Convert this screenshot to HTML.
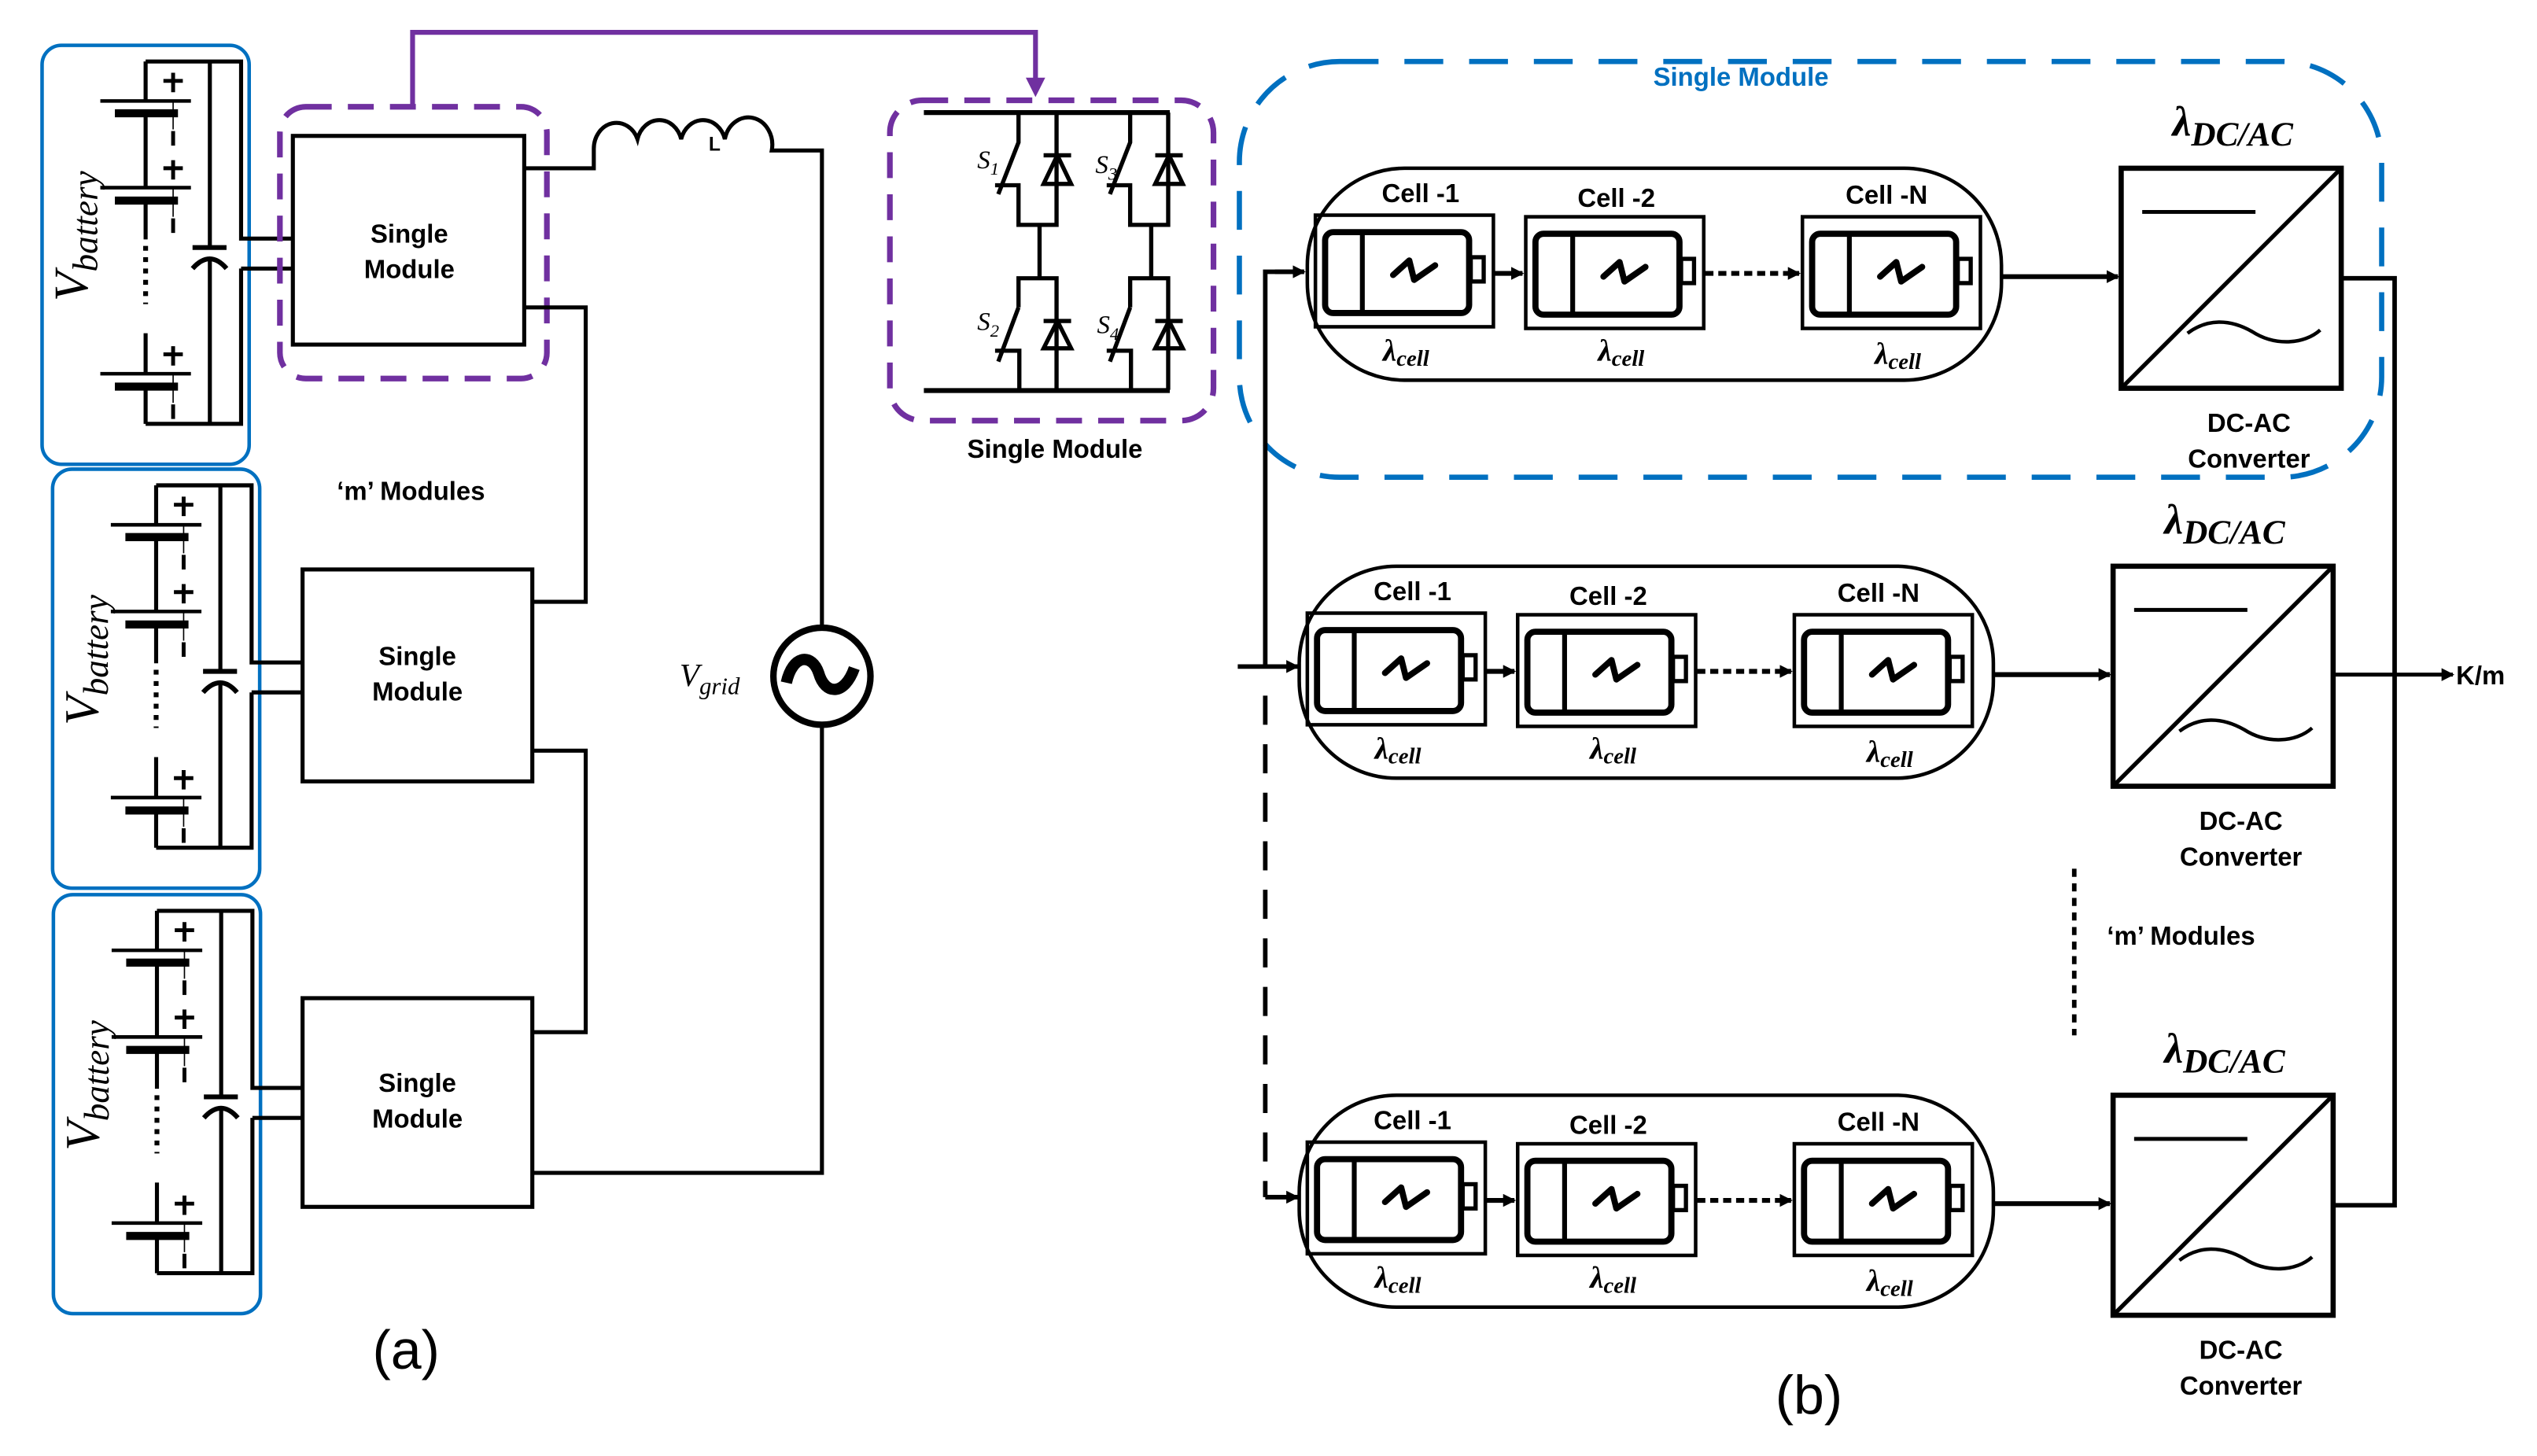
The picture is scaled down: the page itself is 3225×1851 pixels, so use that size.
<!DOCTYPE html>
<html><head><meta charset="utf-8"><style>
html,body{margin:0;padding:0;background:#fff;}
svg{display:block;}
.t{font-family:"Liberation Sans Narrow","Liberation Sans",sans-serif;font-weight:bold;fill:#000;}
.m{font-family:"Liberation Serif",serif;font-style:italic;fill:#000;}
</style></head><body>
<svg width="3225" height="1851" viewBox="0 0 1568 900" preserveAspectRatio="none" xmlns="http://www.w3.org/2000/svg">
<defs>
<marker id="ah" markerWidth="8" markerHeight="8" refX="7" refY="4" orient="auto" markerUnits="userSpaceOnUse"><path d="M0,0 L8,4 L0,8 z" fill="#000"/></marker>
<g id="pack" fill="none" stroke="#000">
  <rect x="26" y="28" width="128" height="259" rx="12" stroke="#0070c0" stroke-width="2.2"/>
  <path d="M90,38 H149 V147.5 H181 M149,166 H181 M149,166 V262 H90 M129.7,38 V153 M129.7,160 V262" stroke-width="2.5"/>
  <path d="M90,38 V62 M90,70 V116 M90,124 V148 M90,206 V231 M90,239 V262" stroke-width="2.5"/>
  <path d="M90,152 V188" stroke-width="3" stroke-dasharray="3,4"/>
  <path d="M119,153 H140" stroke-width="3"/>
  <path d="M119,166 Q129.7,154 140,166" stroke-width="3"/>
  <g stroke-width="2.2">
   <path d="M62,62.4 H118 M62,116 H118 M62,231 H118"/>
   <path d="M107,45 V57 M101,50 H113 M107,99 V111 M101,104 H113 M107,214 V226 M101,219 H113" stroke-width="2.4"/>
   <path d="M107,81 V90 M107,135 V144 M107,250 V259" stroke-width="2.4"/>
   <path d="M107,62 V80 M107,116 V134 M107,231 V249" stroke-width="0.8"/>
  </g>
  <path d="M71,70 H110 M71,124 H110 M71,239 H110" stroke-width="5"/>
  <text class="m" x="0" y="0" transform="translate(54,146) rotate(-90)" text-anchor="middle" font-size="30" stroke="none">V<tspan font-size="22" dy="6">battery</tspan></text>
</g>
<g id="cell" fill="none" stroke="#000">
  <rect x="0" y="0" width="110" height="69" stroke-width="2.2"/>
  <rect x="6" y="10.5" width="89" height="50" rx="5" stroke-width="3.8"/>
  <path d="M29,10.5 V60.5" stroke-width="3"/>
  <rect x="96" y="26" width="8" height="15" stroke-width="2.6"/>
  <path d="M48,37 L58,28 L61,40 L74,31" stroke-width="3.8" stroke-linecap="round" stroke-linejoin="round"/>
</g>
<g id="row">
  <rect x="808" y="104" width="429" height="131" rx="60" fill="none" stroke="#000" stroke-width="2.2"/>
  <use href="#cell" x="813" y="133"/>
  <use href="#cell" x="943" y="134"/>
  <use href="#cell" x="1114" y="134"/>
  <path d="M923,169 H941" stroke="#000" stroke-width="3" marker-end="url(#ah)"/>
  <path d="M1054,169 H1112" stroke="#000" stroke-width="3" stroke-dasharray="5,3" marker-end="url(#ah)"/>
  <path d="M1237,171 H1309" stroke="#000" stroke-width="3" marker-end="url(#ah)"/>
  <text class="t" x="878" y="125" font-size="16" text-anchor="middle">Cell -1</text>
  <text class="t" x="999" y="128" font-size="16" text-anchor="middle">Cell -2</text>
  <text class="t" x="1166" y="126" font-size="16" text-anchor="middle">Cell -N</text>
  <text class="m" x="869" y="223" font-size="19" text-anchor="middle" font-weight="bold">λ<tspan font-size="14" dy="3">cell</tspan></text>
  <text class="m" x="1002" y="223" font-size="19" text-anchor="middle" font-weight="bold">λ<tspan font-size="14" dy="3">cell</tspan></text>
  <text class="m" x="1173" y="225" font-size="19" text-anchor="middle" font-weight="bold">λ<tspan font-size="14" dy="3">cell</tspan></text>
  <rect x="1311" y="104" width="136" height="136" fill="none" stroke="#000" stroke-width="3.2"/>
  <path d="M1311,240 L1447,104" stroke="#000" stroke-width="2.6"/>
  <path d="M1324,131 H1394" stroke="#000" stroke-width="2.4"/>
  <path d="M1352,206 C1364,197 1378,197 1392,205 C1406,214 1424,213 1434,204" fill="none" stroke="#000" stroke-width="2.2"/>
  <text class="m" x="1380" y="84" font-size="26" text-anchor="middle" font-weight="bold">λ<tspan font-size="21" dy="6">DC/AC</tspan></text>
  <text class="t" x="1390" y="267" font-size="16" text-anchor="middle">DC-AC</text>
  <text class="t" x="1390" y="289" font-size="16" text-anchor="middle">Converter</text>
</g>
</defs>

<use href="#pack"/>
<use href="#pack" transform="translate(6.5,262)"/>
<use href="#pack" transform="translate(7,525)"/>

<rect x="173" y="66" width="165" height="168" rx="16" fill="none" stroke="#7030a0" stroke-width="3.5" stroke-dasharray="16,10"/>
<path d="M255,66 V20 H640 V50" fill="none" stroke="#7030a0" stroke-width="3"/>
<path d="M634,48 L646,48 L640,60 z" fill="#7030a0"/>

<g fill="none" stroke="#000" stroke-width="2.5">
 <rect x="181" y="84" width="143" height="129"/>
 <rect x="187" y="352" width="142" height="131"/>
 <rect x="187" y="617" width="142" height="129"/>
 <path d="M324,104 H367 V92 A14,16 0 0 1 394,86 A14,16 0 0 1 421,86 A14,16 0 0 1 448,86 A14,16 0 0 1 477,93 H508 V387"/>
 <path d="M324,190 H362 V372 H329"/>
 <path d="M329,464 H362 V638 H329"/>
 <path d="M329,725 H508 V449"/>
 <circle cx="508" cy="418" r="30" stroke-width="4"/>
</g>
<path d="M486,422 C490,404 502,404 506,416 C510,430 522,430 528,413" fill="none" stroke="#000" stroke-width="7"/>
<text class="t" x="438" y="93" font-size="12">L</text>
<text class="t" x="253" y="150" font-size="16" text-anchor="middle">Single</text>
<text class="t" x="253" y="172" font-size="16" text-anchor="middle">Module</text>
<text class="t" x="258" y="411" font-size="16" text-anchor="middle">Single</text>
<text class="t" x="258" y="433" font-size="16" text-anchor="middle">Module</text>
<text class="t" x="258" y="675" font-size="16" text-anchor="middle">Single</text>
<text class="t" x="258" y="697" font-size="16" text-anchor="middle">Module</text>
<text class="t" x="254" y="309" font-size="16" text-anchor="middle">‘m’ Modules</text>
<text class="m" x="420" y="424" font-size="20">V<tspan font-size="15" dy="5">grid</tspan></text>
<text x="251" y="846" font-size="34" text-anchor="middle" font-family="Liberation Sans,sans-serif">(a)</text>

<rect x="550" y="62" width="200" height="198" rx="20" fill="none" stroke="#7030a0" stroke-width="3.5" stroke-dasharray="16,10"/>
<g id="leg" fill="none" stroke="#000" stroke-width="2.6">
 <path d="M629.5,69.6 V88 L617,120 M615,114.5 H629.5 V139 H653 V69.6"/>
 <path d="M645,96 H662 M653.5,96 L645,113.7 H662 z"/>
 <path d="M642.5,139 V172"/>
 <path d="M629.5,190 V172 H653 V241 M629.5,190 L617,223.5 M615,216.8 H630 V241"/>
 <path d="M645,198.4 H662 M653.5,198.4 L645,215.3 H662 z"/>
</g>
<use href="#leg" x="69"/>
<path d="M571,69.6 H723 M571,241.4 H723" stroke="#000" stroke-width="3"/>
<text class="m" x="604" y="104" font-size="16">S<tspan font-size="11" dy="4">1</tspan></text>
<text class="m" x="677" y="107" font-size="16">S<tspan font-size="11" dy="4">3</tspan></text>
<text class="m" x="604" y="204" font-size="16">S<tspan font-size="11" dy="4">2</tspan></text>
<text class="m" x="678" y="206" font-size="16">S<tspan font-size="11" dy="4">4</tspan></text>
<text class="t" x="652" y="283" font-size="16" text-anchor="middle">Single Module</text>

<rect x="766" y="38" width="706" height="257" rx="62" fill="none" stroke="#0070c0" stroke-width="3.2" stroke-dasharray="24,16"/>
<text class="t" x="1076" y="53" font-size="16" text-anchor="middle" style="fill:#0070c0">Single Module</text>
<use href="#row"/>
<use href="#row" transform="translate(-5,246)"/>
<use href="#row" transform="translate(-5,573)"/>

<g fill="none" stroke="#000" stroke-width="2.8">
 <path d="M806,168 H782 V412"/>
 <path d="M765,412 H802" marker-end="url(#ah)"/>
 <path d="M782,430 V740" stroke-dasharray="18,12"/>
 <path d="M782,740 H802" marker-end="url(#ah)"/>
 <path d="M788,168 H806" marker-end="url(#ah)"/>
 <path d="M1447,172 H1480 V745 H1442"/>
 <path d="M1442,417 H1516" stroke-width="2.4" marker-end="url(#ah)"/>
 <path d="M1282,537 V640" stroke-dasharray="5,4"/>
</g>
<text class="t" x="1518" y="423" font-size="16">K/m</text>
<text class="t" x="1348" y="584" font-size="16" text-anchor="middle">‘m’ Modules</text>
<text x="1118" y="874" font-size="34" text-anchor="middle" font-family="Liberation Sans,sans-serif">(b)</text>
</svg>
</body></html>
